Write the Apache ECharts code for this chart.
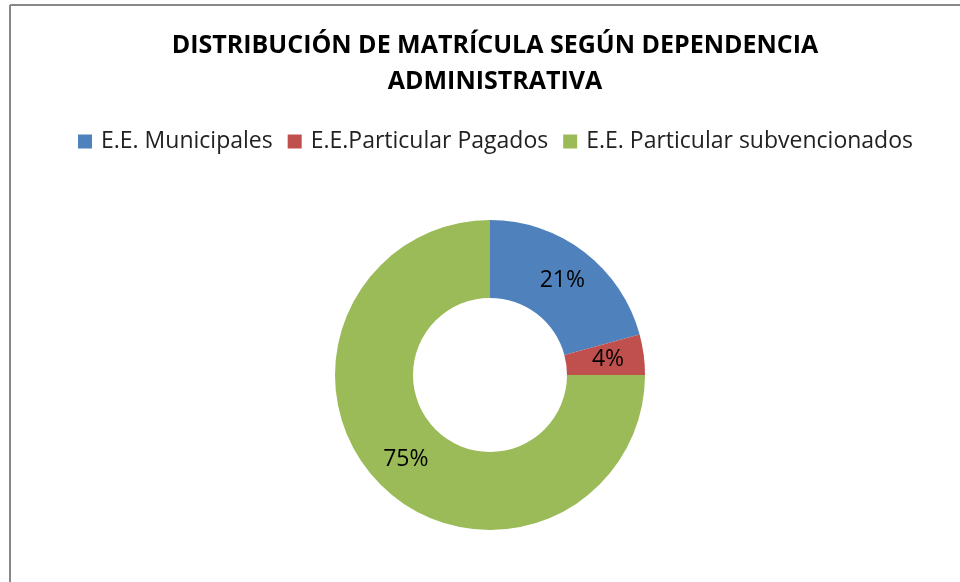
<html>
  <head>
    <meta charset="utf-8" />
    <script src="https://cdn.jsdelivr.net/npm/echarts@6/dist/echarts.min.js"></script>
  </head>
  <body>
    <style>
      html,
      body,
      #main {
        width: 100%;
        height: 100%;
        margin: 0;
        background: #fff;
      }
    </style>
    <div id="main"></div>
    <script>
      var chart = echarts.init(document.getElementById('main'));

      var categories = ['E.E. Municipales', 'E.E.Particular Pagados', 'E.E. Particular subvencionados'];
      var values = [20.8, 4.2, 75.0];
      var colors = ['#4F81BD', '#C0504D', '#9BBB59'];

      var data = categories.map(function (name, i) {
        return { name: name, value: values[i], itemStyle: { color: colors[i] } };
      });

      var font = "'Open Sans', sans-serif";

      var option = {
        animation: false,
        title: {
          text: 'DISTRIBUCIÓN DE MATRÍCULA SEGÚN DEPENDENCIA\nADMINISTRATIVA',
          left: 490,
          top: 23,
          textAlign: 'center',
          textStyle: {
            fontFamily: font,
            fontSize: 25,
            fontWeight: 'bold',
            color: '#000',
            lineHeight: 36
          }
        },
        legend: {
          data: categories,
          top: 125,
          left: 73,
          itemWidth: 14,
          itemHeight: 14,
          itemGap: 15,
          icon: 'rect',
          textStyle: {
            fontFamily: font,
            fontSize: 23,
            color: '#222',
            padding: [0, 0, 0, 4]
          }
        },
        graphic: [
          { type: 'line', shape: { x1: 10, y1: 5, x2: 960, y2: 5 }, style: { stroke: '#888', lineWidth: 2 } },
          { type: 'line', shape: { x1: 10, y1: 5, x2: 10, y2: 582 }, style: { stroke: '#888', lineWidth: 2 } }
        ],
        series: [
          {
            type: 'pie',
            center: [490, 375],
            radius: [77, 155],
            startAngle: 90,
            clockwise: true,
            avoidLabelOverlap: false,
            label: {
              show: true,
              position: 'inside',
              fontFamily: font,
              fontSize: 23,
              color: '#000',
              formatter: function (p) {
                return Math.round(p.percent) + '%';
              }
            },
            labelLine: { show: false },
            emphasis: { disabled: true },
            itemStyle: { borderWidth: 0 },
            data: data
          }
        ]
      };

      chart.setOption(option);

      window.onresize = function () {
        chart.resize();
      };
    </script>
  </body>
</html>
